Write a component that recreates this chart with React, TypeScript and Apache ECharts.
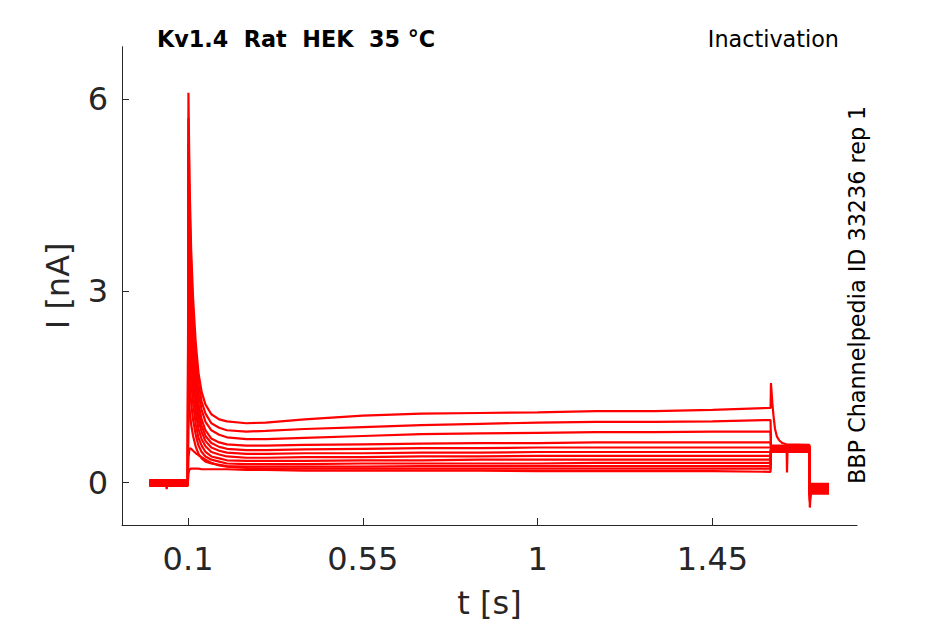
import React, { useEffect, useRef } from "react";
import * as echarts from "echarts";

// Shared time grid of the conditioning pulse (s)
const T_ON = [0.101, 0.104, 0.108, 0.113, 0.12, 0.127, 0.135, 0.145, 0.16, 0.18, 0.2, 0.25, 0.3, 0.4, 0.55, 0.7, 0.85, 1.0, 1.15, 1.3, 1.45, 1.5995];

// Currents (nA) of each sweep along T_ON
const SWEEP_1 = [6.10, 4.67, 3.65, 2.88, 2.17, 1.71, 1.42, 1.22, 1.07, 0.99, 0.96, 0.93, 0.94, 0.99, 1.05, 1.08, 1.09, 1.10, 1.12, 1.12, 1.14, 1.17];
const SWEEP_2 = [5.70, 4.34, 3.38, 2.65, 1.97, 1.54, 1.27, 1.08, 0.93, 0.86, 0.82, 0.80, 0.81, 0.84, 0.87, 0.90, 0.92, 0.94, 0.95, 0.95, 0.96, 0.98];
const SWEEP_3 = [5.30, 4.03, 3.12, 2.43, 1.80, 1.39, 1.14, 0.95, 0.82, 0.75, 0.71, 0.68, 0.68, 0.70, 0.73, 0.76, 0.77, 0.78, 0.79, 0.79, 0.80, 0.80];
const SWEEP_4 = [4.90, 3.70, 2.85, 2.21, 1.61, 1.23, 0.99, 0.82, 0.69, 0.63, 0.60, 0.58, 0.58, 0.59, 0.60, 0.61, 0.62, 0.62, 0.63, 0.63, 0.63, 0.63];
const SWEEP_5 = [4.40, 3.32, 2.56, 1.98, 1.44, 1.10, 0.89, 0.73, 0.62, 0.56, 0.53, 0.51, 0.51, 0.52, 0.53, 0.54, 0.54, 0.55, 0.55, 0.55, 0.55, 0.55];
const SWEEP_6 = [3.90, 2.95, 2.27, 1.76, 1.28, 0.98, 0.79, 0.65, 0.55, 0.50, 0.47, 0.45, 0.45, 0.46, 0.46, 0.47, 0.47, 0.48, 0.48, 0.48, 0.48, 0.48];
const SWEEP_7 = [3.30, 2.50, 1.93, 1.50, 1.10, 0.84, 0.68, 0.57, 0.48, 0.44, 0.41, 0.39, 0.39, 0.40, 0.40, 0.41, 0.41, 0.42, 0.42, 0.42, 0.42, 0.42];
const SWEEP_8 = [2.70, 2.05, 1.59, 1.24, 0.91, 0.70, 0.58, 0.48, 0.41, 0.38, 0.35, 0.34, 0.34, 0.34, 0.35, 0.35, 0.36, 0.36, 0.36, 0.36, 0.36, 0.36];
const SWEEP_9 = [2.10, 1.60, 1.25, 0.98, 0.74, 0.58, 0.48, 0.41, 0.36, 0.33, 0.30, 0.29, 0.29, 0.29, 0.30, 0.30, 0.30, 0.30, 0.31, 0.31, 0.31, 0.31];
const SWEEP_10 = [1.50, 1.16, 0.91, 0.73, 0.56, 0.45, 0.38, 0.33, 0.30, 0.28, 0.26, 0.25, 0.25, 0.25, 0.25, 0.26, 0.26, 0.26, 0.26, 0.26, 0.26, 0.26];
const SWEEP_11 = [0.40, 0.54, 0.53, 0.50, 0.46, 0.43, 0.40, 0.36, 0.31, 0.27, 0.25, 0.23, 0.22, 0.22, 0.22, 0.22, 0.22, 0.22, 0.22, 0.22, 0.22, 0.22];
const SWEEP_12 = [0.15, 0.21, 0.22, 0.22, 0.22, 0.22, 0.21, 0.21, 0.21, 0.21, 0.21, 0.20, 0.20, 0.19, 0.19, 0.19, 0.19, 0.18, 0.18, 0.18, 0.18, 0.17];
const SWEEPS = [SWEEP_1, SWEEP_2, SWEEP_3, SWEEP_4, SWEEP_5, SWEEP_6, SWEEP_7, SWEEP_8, SWEEP_9, SWEEP_10, SWEEP_11, SWEEP_12];

// Holding level before the pulse (nA), per sweep
const BASE_LEVEL = [0.03, -0.02, 0.01, -0.04, 0.04, -0.01, 0.02, -0.03, 0.0, 0.03, -0.05, 0.0];

// Test pulse: the first sweep has a transient, the others are flat
const T_TEST = [1.6005, 1.604, 1.607, 1.611, 1.616, 1.622, 1.63, 1.64, 1.6995];
const TEST_SWEEP_1 = [1.56, 1.25, 1.05, 0.84, 0.72, 0.66, 0.62, 0.60, 0.59];
const TEST_LEVEL = [0.59, 0.58, 0.57, 0.56, 0.55, 0.54, 0.53, 0.52, 0.51, 0.50, 0.49, 0.48];

// Return to holding potential
const T_TAIL = [1.7005, 1.704, 1.75];
const TAIL_DROP = [-0.30, -0.39, -0.28, -0.25, -0.22, -0.20, -0.20, -0.19, -0.18, -0.18, -0.18, -0.18];
const TAIL_LEVEL = [-0.02, -0.05, -0.07, -0.09, -0.10, -0.11, -0.12, -0.13, -0.14, -0.15, -0.16, -0.17];

// Glitches
const BASE_GLITCH_T = [0.043, 0.045, 0.047];
const BASE_GLITCH_V = [-0.01, -0.1, -0.01];
const TEST_GLITCH_T = [1.641, 1.6418, 1.6425, 1.643];
const TEST_GLITCH_V = [0.49, 0.16, 0.16, 0.49];

// Axis ticks
const X_TICKS = [0.1, 0.55, 1, 1.45];
const Y_TICKS = [0, 3, 6];

const RED = "#ff0000";
const AXIS = "#262626";
const FONT = "DejaVu Sans";

function sweepData(i: number): number[][] {
  const pts: number[][] = [];
  pts.push([0, BASE_LEVEL[i]]);
  pts.push([0.0995, BASE_LEVEL[i]]);
  T_ON.forEach((t, k) => pts.push([t, SWEEPS[i][k]]));
  if (i === 0) {
    T_TEST.forEach((t, k) => pts.push([t, TEST_SWEEP_1[k]]));
  } else {
    pts.push([T_TEST[0], TEST_LEVEL[i]]);
    pts.push([T_TEST[T_TEST.length - 1], TEST_LEVEL[i]]);
  }
  pts.push([T_TAIL[0], TAIL_DROP[i]]);
  pts.push([T_TAIL[1], TAIL_LEVEL[i]]);
  pts.push([T_TAIL[2], TAIL_LEVEL[i]]);
  return pts;
}

function lineSeries(data: number[][]) {
  return {
    type: "line",
    data,
    showSymbol: false,
    symbol: "none",
    silent: true,
    lineStyle: { color: RED, width: 2.2 },
  };
}

export default function App() {
  const ref = useRef<HTMLDivElement>(null);
  useEffect(() => {
    const chart = echarts.init(ref.current!, null, { renderer: "svg" });
    const series: any[] = SWEEPS.map((_, i) => lineSeries(sweepData(i)));
    series.push(lineSeries(BASE_GLITCH_T.map((t, k) => [t, BASE_GLITCH_V[k]])));
    series.push(lineSeries(TEST_GLITCH_T.map((t, k) => [t, TEST_GLITCH_V[k]])));
    chart.setOption({
      animation: false,
      backgroundColor: "#ffffff",
      grid: { left: 122, right: 88, top: 46.7, bottom: 99, containLabel: false },
      xAxis: {
        type: "value",
        min: -0.07,
        max: 1.822,
        name: "t [s]",
        nameLocation: "middle",
        nameGap: 62,
        nameTextStyle: { fontFamily: FONT, fontSize: 32, color: AXIS },
        axisLine: { show: true, onZero: false, lineStyle: { color: AXIS, width: 1 } },
        axisTick: { show: true, inside: true, length: 7, customValues: X_TICKS, lineStyle: { color: AXIS } },
        axisLabel: {
          customValues: X_TICKS,
          margin: 18,
          fontFamily: FONT,
          fontSize: 32,
          color: AXIS,
          formatter: (v: number) => String(v),
        },
        splitLine: { show: false },
      },
      yAxis: {
        type: "value",
        min: -0.662,
        max: 6.82,
        name: "I [nA]",
        nameLocation: "middle",
        nameGap: 48,
        nameRotate: 90,
        nameTextStyle: { fontFamily: FONT, fontSize: 32, color: AXIS },
        axisLine: { show: true, onZero: false, lineStyle: { color: AXIS, width: 1 } },
        axisTick: { show: true, inside: true, length: 7, customValues: Y_TICKS, lineStyle: { color: AXIS } },
        axisLabel: {
          customValues: Y_TICKS,
          margin: 14,
          fontFamily: FONT,
          fontSize: 32,
          color: AXIS,
          formatter: (v: number) => String(v),
        },
        splitLine: { show: false },
      },
      graphic: [
        {
          type: "text",
          x: 157,
          y: 38.6,
          style: {
            text: "Kv1.4  Rat  HEK  35 °C",
            font: `bold 22.3px "${FONT}"`,
            fill: "#000",
            align: "left",
            verticalAlign: "middle",
          },
        },
        {
          type: "text",
          x: 839,
          y: 38.6,
          style: {
            text: "Inactivation",
            font: `22.3px "${FONT}"`,
            fill: "#000",
            align: "right",
            verticalAlign: "middle",
          },
        },
        {
          type: "text",
          x: 857,
          y: 484,
          rotation: Math.PI / 2,
          style: {
            text: "BBP Channelpedia ID 33236 rep 1",
            font: `22.3px "${FONT}"`,
            fill: "#000",
            align: "left",
            verticalAlign: "middle",
          },
        },
      ],
      series,
    });
    return () => chart.dispose();
  }, []);
  return (
    <div
      ref={ref}
      style={{ position: "fixed", left: 0, top: 0, width: 945, height: 624, background: "#fff" }}
    />
  );
}
